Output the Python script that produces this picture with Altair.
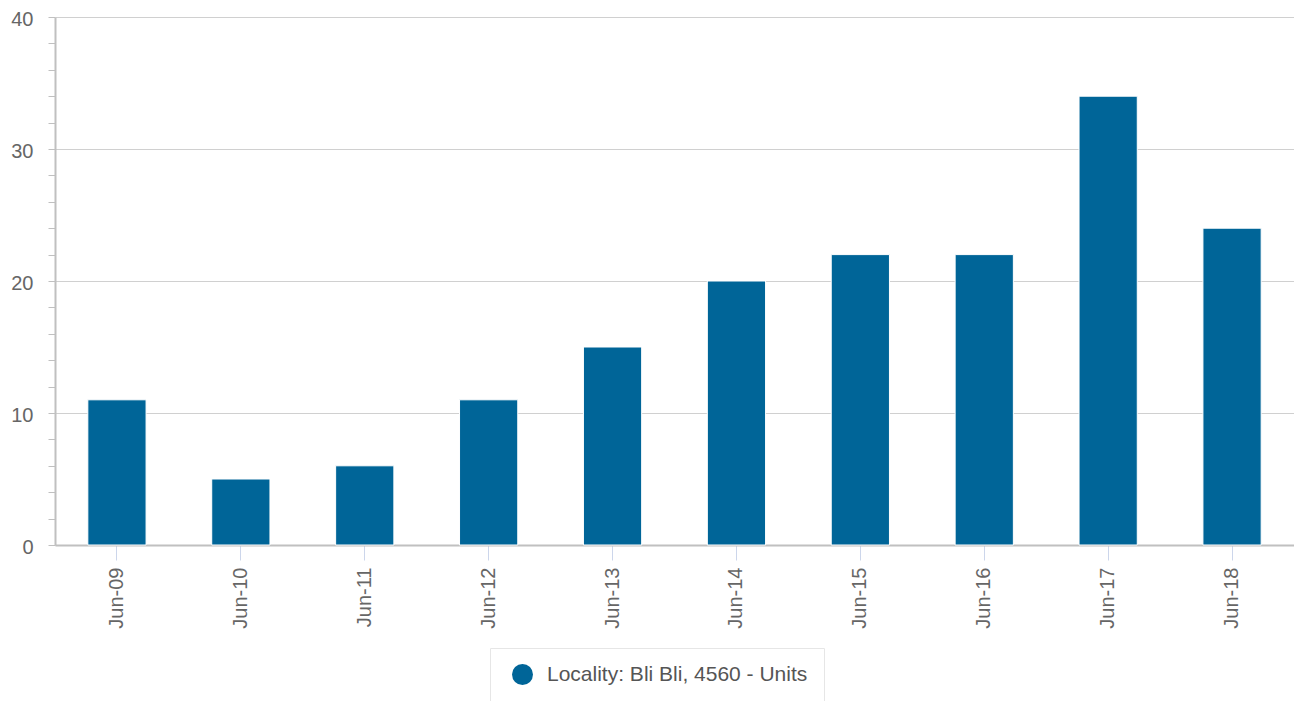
import altair as alt
import pandas as pd

categories = ["Jun-09", "Jun-10", "Jun-11", "Jun-12", "Jun-13",
              "Jun-14", "Jun-15", "Jun-16", "Jun-17", "Jun-18"]
values = [11, 5, 6, 11, 15, 20, 22, 22, 34, 24]
series_name = "Locality: Bli Bli, 4560 - Units"
y_ticks = list(range(0, 41, 2))

df = pd.DataFrame({"period": categories, "units": values, "series": [series_name] * len(values)})

FONT = "Liberation Sans"

chart = alt.Chart(df).mark_bar(stroke="white", strokeWidth=1, color="#006598").encode(
    x=alt.X("period:N", sort=categories,
            scale=alt.Scale(paddingInner=0.53, paddingOuter=0.265),
            axis=alt.Axis(title=None, labelAngle=270, labelAlign="right", labelBaseline="middle",
                          labelFontSize=20, labelColor="#666666", labelFont=FONT,
                          labelPadding=7, tickColor="#ccd6eb", tickSize=15, tickWidth=1,
                          domainColor="#c0c0c0", domainWidth=2, grid=False)),
    y=alt.Y("units:Q", scale=alt.Scale(domain=[0, 40], nice=False),
            axis=alt.Axis(title=None, values=y_ticks,
                          labelExpr="datum.value % 10 == 0 ? datum.label : ''",
                          labelFontSize=20, labelColor="#666666", labelFont=FONT,
                          labelPadding=15, labelOffset=2, tickSize=7, tickColor="#c0c0c0", tickWidth=1,
                          domainColor="#c0c0c0", domainWidth=2,
                          grid=True, gridColor="#d0d0d0", gridWidth=1,
                          gridOpacity={"condition": {"test": "datum.value % 10 == 0", "value": 1}, "value": 0})),
    color=alt.Color("series:N", scale=alt.Scale(range=["#006598"]),
                    legend=alt.Legend(title=None, orient="none", legendX=435, legendY=631,
                                      symbolType="circle", symbolSize=441, symbolStrokeWidth=0,
                                      symbolOffset=6,
                                      labelFontSize=21, labelColor="#555555", labelFont=FONT,
                                      labelLimit=0, padding=16, strokeColor="#e6e6e6", fillColor="white",
                                      labelOffset=14)),
).properties(
    width=1239, height=528,
    autosize=alt.AutoSizeParams(type="none"),
    padding={"left": 47, "top": 9, "right": 0, "bottom": 156},
).configure_view(stroke=None)

chart.save("out.html", embed_options={"renderer": "svg", "actions": False})
